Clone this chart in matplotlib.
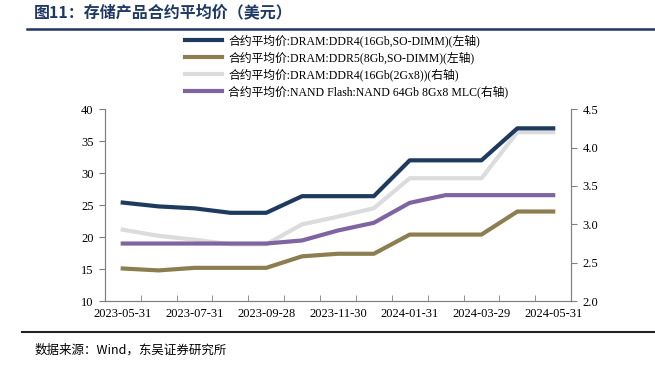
import matplotlib
matplotlib.use("Agg")
import matplotlib.pyplot as plt

plt.rcParams['font.family'] = ['Liberation Serif', 'Noto Sans CJK SC', 'DejaVu Sans']

# monthly observations
dates = ["2023-05-31", "2023-06-30", "2023-07-31", "2023-08-31", "2023-09-28",
         "2023-10-31", "2023-11-30", "2023-12-29", "2024-01-31", "2024-02-29",
         "2024-03-29", "2024-04-30", "2024-05-31"]
ddr4_sodimm = [25.4, 24.8, 24.5, 23.8, 23.8, 26.4, 26.4, 26.4, 32.0, 32.0, 32.0, 37.0, 37.0]
ddr5_sodimm = [15.1, 14.8, 15.2, 15.2, 15.2, 17.0, 17.4, 17.4, 20.4, 20.4, 20.4, 24.0, 24.0]
ddr4_2gx8 = [2.93, 2.85, 2.80, 2.74, 2.74, 3.00, 3.10, 3.21, 3.60, 3.60, 3.60, 4.20, 4.20]
nand_mlc = [2.75, 2.75, 2.75, 2.75, 2.75, 2.79, 2.92, 3.02, 3.28, 3.38, 3.38, 3.38, 3.38]

labels = ["合约平均价:DRAM:DDR4(16Gb,SO-DIMM)(左轴)",
          "合约平均价:DRAM:DDR5(8Gb,SO-DIMM)(左轴)",
          "合约平均价:DRAM:DDR4(16Gb(2Gx8))(右轴)",
          "合约平均价:NAND Flash:NAND 64Gb 8Gx8 MLC(右轴)"]
colors = ["#1F3A5F", "#8C7E50", "#DCDCDC", "#8064A2"]

fig = plt.figure(figsize=(6.55, 3.65), dpi=100)
ax = fig.add_axes([0.160, 0.175, 0.712, 0.526])
ax2 = ax.twinx()

x = list(range(len(dates)))
lw = 3.0
h1, = ax.plot(x, ddr4_sodimm, color=colors[0], lw=lw, zorder=4)
h2, = ax.plot(x, ddr5_sodimm, color=colors[1], lw=lw, zorder=4)
h3, = ax2.plot(x, ddr4_2gx8, color=colors[2], lw=lw, zorder=2)
h4, = ax2.plot(x, nand_mlc, color=colors[3], lw=lw, zorder=3)

# draw the left axis lines on top of the right-axis ones
ax.set_zorder(ax2.get_zorder() + 1)
ax.patch.set_visible(False)

ax.set_xlim(-0.5, len(dates) - 0.5)
ax.set_ylim(10, 40)
ax.set_yticks(range(10, 41, 5))
ax2.set_ylim(2.0, 4.5)
ax2.set_yticks([2.0, 2.5, 3.0, 3.5, 4.0, 4.5])
ax2.set_yticklabels(["2.0", "2.5", "3.0", "3.5", "4.0", "4.5"])

ax.set_xticks(x[::2])
ax.set_xticklabels(dates[::2])
ax.set_xticks([i - 0.5 for i in range(len(dates) + 1)], minor=True)
ax.tick_params(axis='x', which='major', length=0, pad=5, labelsize=9)
ax.tick_params(axis='x', which='minor', direction='in', length=4, color='#808080')
ax.tick_params(axis='y', direction='out', length=4, color='#808080', labelsize=9, pad=4)
ax2.tick_params(axis='y', direction='out', length=4, color='#808080', labelsize=9, pad=4)

for a in (ax, ax2):
    a.spines['top'].set_visible(False)
    for s in ('left', 'right', 'bottom'):
        a.spines[s].set_color('#808080')
        a.spines[s].set_linewidth(0.8)

fig.legend([h1, h2, h3, h4], labels, loc='upper left', bbox_to_anchor=(0.282, 0.905),
           frameon=False, fontsize=8.5, handlelength=3.2, handletextpad=0.5,
           labelspacing=0.35, borderpad=0, borderaxespad=0)

# title and rules
fig.text(0.052, 0.965, "图11：存储产品合约平均价（美元）", fontsize=11.5, fontweight='bold',
         color='#1F3864', family=['Noto Sans CJK SC'], va='center', ha='left')
fig.add_artist(plt.Line2D([0.041, 1.0], [0.921, 0.921], color='#1F3864', lw=1.8))
fig.add_artist(plt.Line2D([0.033, 1.0], [0.090, 0.090], color='#222222', lw=1.5))
fig.text(0.052, 0.040, "数据来源：Wind，东吴证券研究所", fontsize=9,
         family=['Noto Sans CJK SC'], va='center', ha='left')

fig.savefig("out.png", dpi=100)
